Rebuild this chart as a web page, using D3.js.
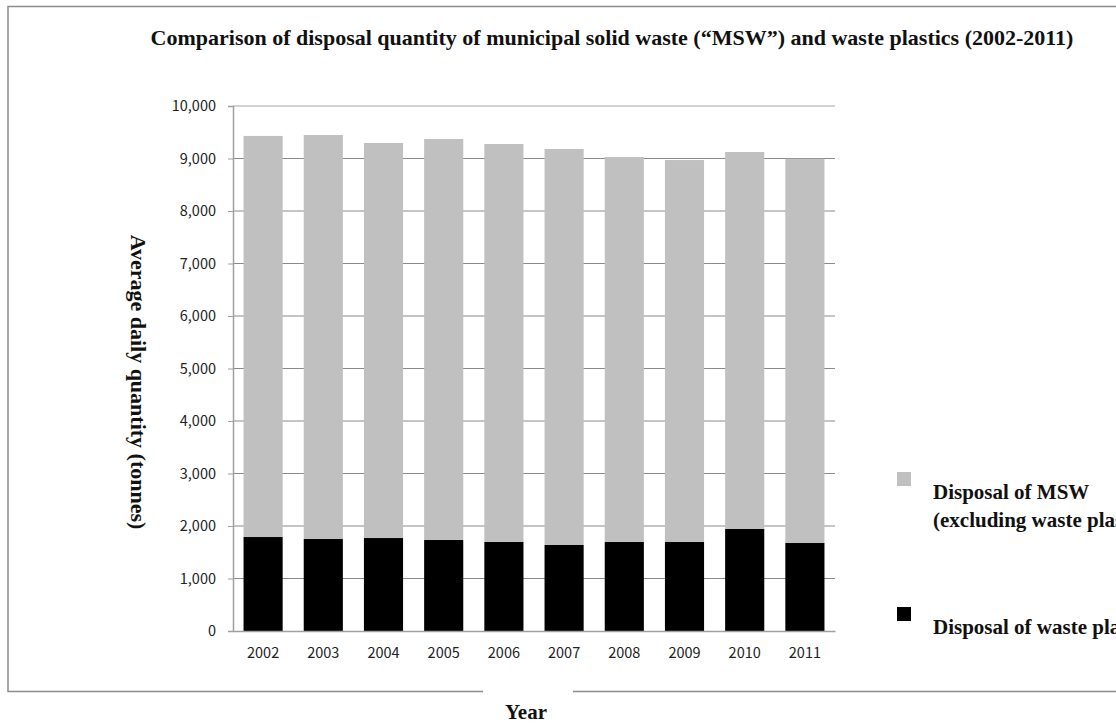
<!DOCTYPE html>
<html>
<head>
<meta charset="utf-8">
<script src="https://cdn.jsdelivr.net/npm/d3@7"></script>
<style>
  html, body { margin: 0; padding: 0; background: #fff; overflow: hidden; }
  svg { display: block; }
</style>
</head>
<body>
<svg id="chart" width="1116" height="725"></svg>
<script>
// Average daily disposal quantity (tonnes), 2002-2011
const years = ["2002", "2003", "2004", "2005", "2006", "2007", "2008", "2009", "2010", "2011"];
const wastePlastics = [1790, 1752, 1771, 1733, 1695, 1638, 1695, 1695, 1943, 1676];
const mswExclPlastics = [7640, 7696, 7524, 7638, 7581, 7543, 7334, 7276, 7181, 7319];
const yTicks = [0, 1000, 2000, 3000, 4000, 5000, 6000, 7000, 8000, 9000, 10000];

const seriesNames = ["Disposal of waste plastics", "Disposal of MSW\n(excluding waste plastics)"];
const seriesColors = ["#000000", "#c0c0c0"];

const svg = d3.select("#chart");
const serif = "'Liberation Serif', 'Times New Roman', serif";
const sans = "'Noto Sans CJK KR', 'DejaVu Sans', sans-serif";

// outer frame with a gap at the bottom for the axis title
const frame = svg.append("g").attr("stroke", "#8c8c8c").attr("stroke-width", 1.5).attr("fill", "none");
frame.append("path").attr("d", "M1130,6.5 H8 V691.5 H483");
frame.append("path").attr("d", "M573,691.5 H1130");

const margin = { left: 233, right: 835, top: 106, bottom: 631 };

const x = d3.scaleBand().domain(years).range([margin.left, margin.right]).paddingInner(0.35).paddingOuter(0.175);
const y = d3.scaleLinear().domain([0, 10000]).range([margin.bottom, margin.top]);

// gridlines
svg.append("g").selectAll("line").data(yTicks.filter(d => d > 0)).join("line")
  .attr("x1", margin.left).attr("x2", margin.right)
  .attr("y1", d => y(d)).attr("y2", d => y(d))
  .attr("stroke", d => d === 10000 ? "#c4c4c4" : "#8a8a8a")
  .attr("stroke-width", d => d === 10000 ? 1.5 : 1);

// stacked bars
const rows = years.map((yr, i) => ({ year: yr, plastics: wastePlastics[i], msw: mswExclPlastics[i] }));
const stack = d3.stack().keys(["plastics", "msw"])(rows);

svg.append("g").selectAll("g").data(stack).join("g")
  .attr("fill", (d, i) => seriesColors[i])
  .selectAll("rect").data(d => d).join("rect")
  .attr("x", d => x(d.data.year))
  .attr("width", x.bandwidth())
  .attr("y", d => y(d[1]))
  .attr("height", d => y(d[0]) - y(d[1]));

// y axis
const yAxis = svg.append("g").attr("transform", `translate(${margin.left},0)`)
  .call(d3.axisLeft(y).tickValues(yTicks).tickFormat(d3.format(",")).tickSize(5).tickPadding(4));
yAxis.select(".domain").attr("stroke", "#a0a0a0").attr("stroke-width", 1.5);
yAxis.selectAll(".tick line").attr("stroke", "#a0a0a0");
yAxis.selectAll(".tick text").attr("font-family", sans).attr("font-size", 14.5).attr("fill", "#222").attr("x", -17);

// x axis
const xAxis = svg.append("g").attr("transform", `translate(0,${margin.bottom})`)
  .call(d3.axisBottom(x).tickSize(0).tickPadding(17));
xAxis.select(".domain").attr("stroke", "#a0a0a0").attr("stroke-width", 1.5);
xAxis.selectAll(".tick text").attr("font-family", sans).attr("font-size", 14.5).attr("fill", "#222");

// title
svg.append("text").attr("x", 612).attr("y", 45).attr("text-anchor", "middle")
  .attr("font-family", serif).attr("font-weight", "bold").attr("font-size", 22).attr("fill", "#111")
  .text("Comparison of disposal quantity of municipal solid waste (\u201cMSW\u201d) and waste plastics (2002-2011)");

// axis titles
svg.append("text").attr("transform", "translate(131,382) rotate(90)").attr("text-anchor", "middle")
  .attr("font-family", serif).attr("font-weight", "bold").attr("font-size", 22).attr("fill", "#111")
  .text("Average daily quantity (tonnes)");

svg.append("text").attr("x", 526).attr("y", 719).attr("text-anchor", "middle")
  .attr("font-family", serif).attr("font-weight", "bold").attr("font-size", 21).attr("fill", "#111")
  .text("Year");

// legend
const legendItems = [
  { name: seriesNames[1], color: seriesColors[1], y: 472 },
  { name: seriesNames[0], color: seriesColors[0], y: 607 }
];
const lg = svg.append("g");
legendItems.forEach(item => {
  lg.append("rect").attr("x", 897).attr("y", item.y).attr("width", 14).attr("height", 14).attr("fill", item.color);
  const t = lg.append("text").attr("x", 933).attr("y", item.y + 27)
    .attr("font-family", serif).attr("font-weight", "bold").attr("font-size", 21).attr("fill", "#111");
  item.name.split("\n").forEach((line, i) => {
    t.append("tspan").attr("x", 933).attr("dy", i === 0 ? 0 : 28).text(line);
  });
});
</script>
</body>
</html>
